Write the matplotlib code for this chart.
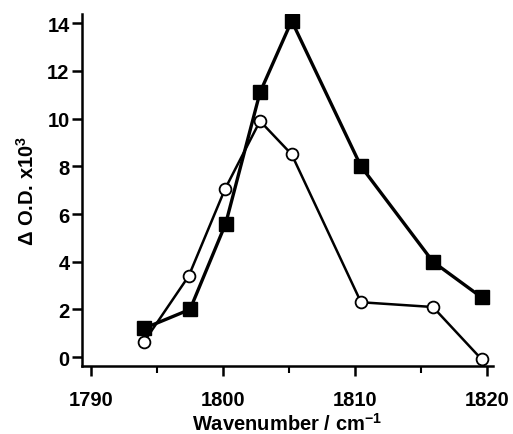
import matplotlib
matplotlib.use("Agg")
import matplotlib.pyplot as plt
from matplotlib.ticker import MultipleLocator

plt.rcParams['font.family'] = ['Liberation Sans', 'DejaVu Sans']
plt.rcParams['font.weight'] = 'bold'
plt.rcParams['axes.labelweight'] = 'bold'
plt.rcParams['mathtext.default'] = 'regular'

sq_x = [1794.0, 1797.5, 1800.2, 1802.8, 1805.2, 1810.45, 1815.9, 1819.6]
sq_y = [1.2, 2.0, 5.6, 11.1, 14.1, 8.0, 4.0, 2.5]
ci_x = [1794.0, 1797.4, 1800.15, 1802.8, 1805.2, 1810.45, 1815.9, 1819.6]
ci_y = [0.63, 3.4, 7.05, 9.9, 8.5, 2.3, 2.1, -0.1]
xticks = [1790, 1800, 1810, 1820]
yticks = [0, 2, 4, 6, 8, 10, 12, 14]

fig = plt.figure(figsize=(5.13, 4.35), dpi=100)
ax = fig.add_axes([0.160, 0.156, 0.801, 0.809])

ax.plot(ci_x, ci_y, color='black', lw=1.8, marker='o', ms=8.5,
        mfc='white', mec='black', mew=1.3, zorder=2)
ax.plot(sq_x, sq_y, color='black', lw=2.4, marker='s', ms=9.5,
        mfc='black', mec='black', zorder=3)

ax.set_xlim(1789.32, 1820.45)
ax.set_ylim(-0.38, 14.38)
ax.set_xticks(xticks)
ax.set_yticks(yticks)
ax.xaxis.set_minor_locator(MultipleLocator(5))

for s in ['top', 'right']:
    ax.spines[s].set_visible(False)
for s in ['left', 'bottom']:
    ax.spines[s].set_linewidth(1.8)

ax.tick_params(axis='both', which='major', direction='out', length=7, width=1.8,
               labelsize=14.5)
ax.tick_params(axis='x', which='minor', direction='out', length=5, width=1.5)
ax.tick_params(axis='y', pad=2)
ax.tick_params(axis='x', which='major', pad=10)

ax.set_xlabel('Wavenumber / cm$^{-1}$', fontsize=14.5, labelpad=2)
ax.set_ylabel('Δ O.D. x10$^{3}$', fontsize=14.5, labelpad=7)

fig.savefig('out.png', dpi=100)
